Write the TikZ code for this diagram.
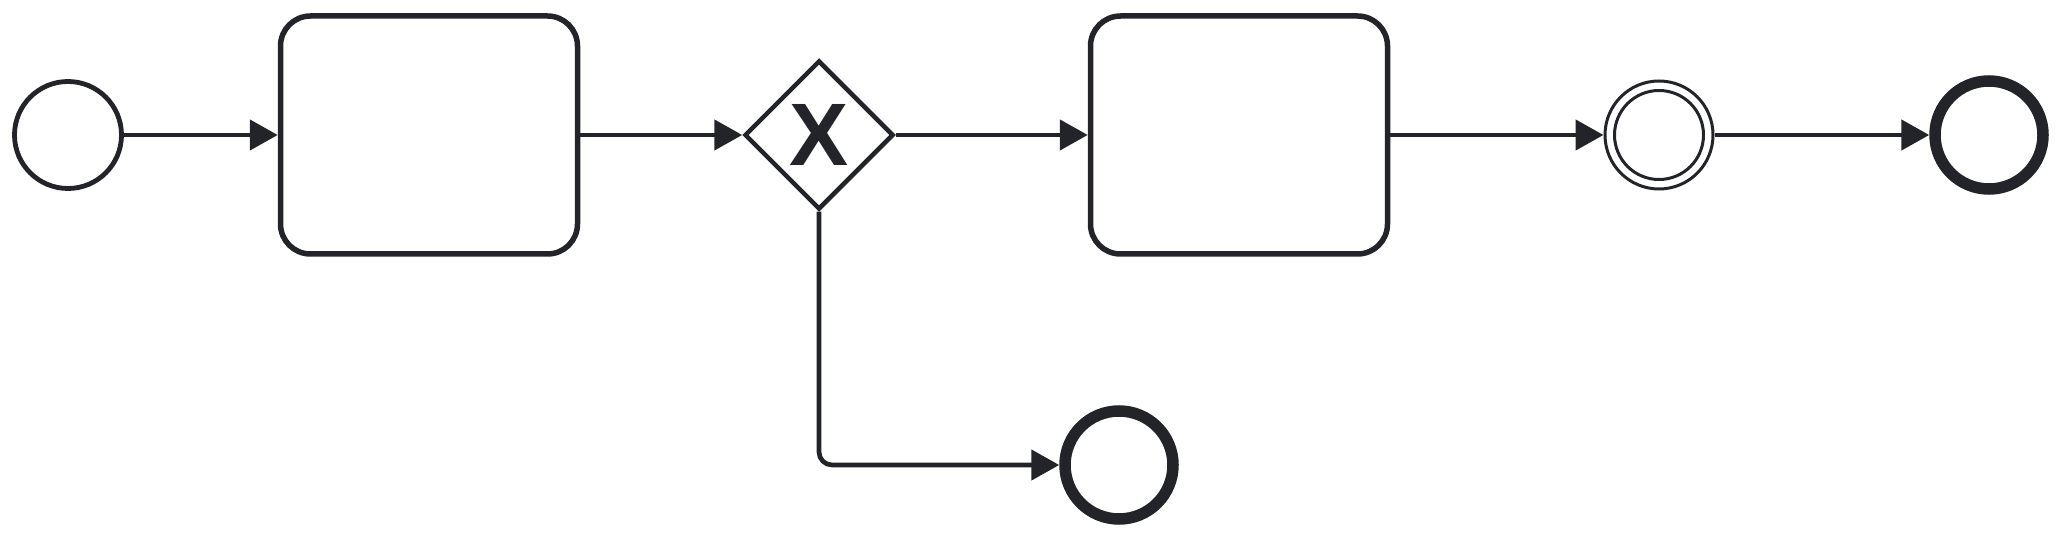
\documentclass[tikz,border=0pt]{standalone}
\usepackage{fontspec}
\newfontfamily\xfont{Liberation Sans}
\usetikzlibrary{shapes.geometric,arrows.meta}
\definecolor{ink}{HTML}{22242A}
\begin{document}
\begin{tikzpicture}[x=1pt,y=-1pt,
  flow/.style={draw=ink,line width=4.7pt,-{Triangle[length=28pt,width=30pt]}},
  task/.style={draw=ink,fill=white,line width=5.5pt,rounded corners=30pt,minimum width=297pt,minimum height=238pt,inner sep=0pt},
  startev/.style={circle,draw=ink,fill=white,line width=4.8pt,minimum size=107pt,inner sep=0pt},
  interev/.style={circle,draw=ink,fill=white,line width=3pt,minimum size=108pt,inner sep=0pt},
  interin/.style={circle,draw=ink,line width=3pt,minimum size=89pt,inner sep=0pt},
  endev/.style={circle,draw=ink,fill=white,line width=11.5pt,minimum size=108pt,inner sep=0pt},
  gateway/.style={diamond,aspect=1,draw=ink,fill=white,line width=4.5pt,minimum width=149pt,minimum height=149pt,inner sep=0pt,text=ink,font=\xfont\bfseries\fontsize{88.7}{88.7}\selectfont}]
\useasboundingbox (0,0) rectangle (2061,537);
\node[startev] (s) at (68,135) {};
\node[task] (t1) at (429,135) {};
\node[gateway] (gw) at (819,135) {X};
\node[task] (t2) at (1239,135) {};
\node[interev] (ie) at (1659,135) {};
\node[interin] (iein) at (1659,135) {};
\node[endev] (e1) at (1989,135) {};
\node[endev] (e2) at (1119,465) {};
\draw[flow] (s.east) -- (t1.west);
\draw[flow] (t1.east) -- (gw.west);
\draw[flow] (gw.east) -- (t2.west);
\draw[flow] (t2.east) -- (ie.west);
\draw[flow] (ie.east) -- (e1.west);
\draw[flow,rounded corners=13pt] (gw.south) |- (e2.west);
\end{tikzpicture}
\end{document}
